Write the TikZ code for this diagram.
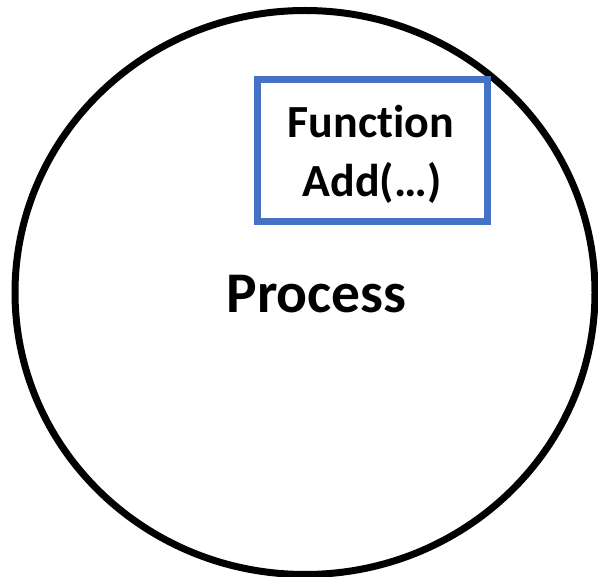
\documentclass[tikz,border=0pt]{standalone}
\usepackage{fontspec}
\setmainfont{Carlito}[Ligatures=NoCommon]
\definecolor{boxblue}{HTML}{4472C4}
\begin{document}
\begin{tikzpicture}[x=1pt,y=-1pt,
  ring/.style={draw=black,line width=7pt},
  fbox/.style={draw=boxblue,line width=7pt,minimum width=230pt,minimum height=142pt,inner sep=0pt},
  lbl/.style={inner sep=0pt,anchor=base,font=\bfseries\fontsize{46}{55}\selectfont},
  big/.style={inner sep=0pt,anchor=base,font=\bfseries\fontsize{57.5}{68}\selectfont}]
\useasboundingbox (0,0) rectangle (598,577);
\draw[ring] (305,292.5) ellipse [x radius=290, y radius=282];
\node[fbox] (fn) at (372,151) {};
\node[lbl] (t1) at (371,138) {Function};
\node[lbl] (t2) at (372,197) {Add(…)};
\node[big] (proc) at (316.5,312.3) {Process};
\end{tikzpicture}
\end{document}
